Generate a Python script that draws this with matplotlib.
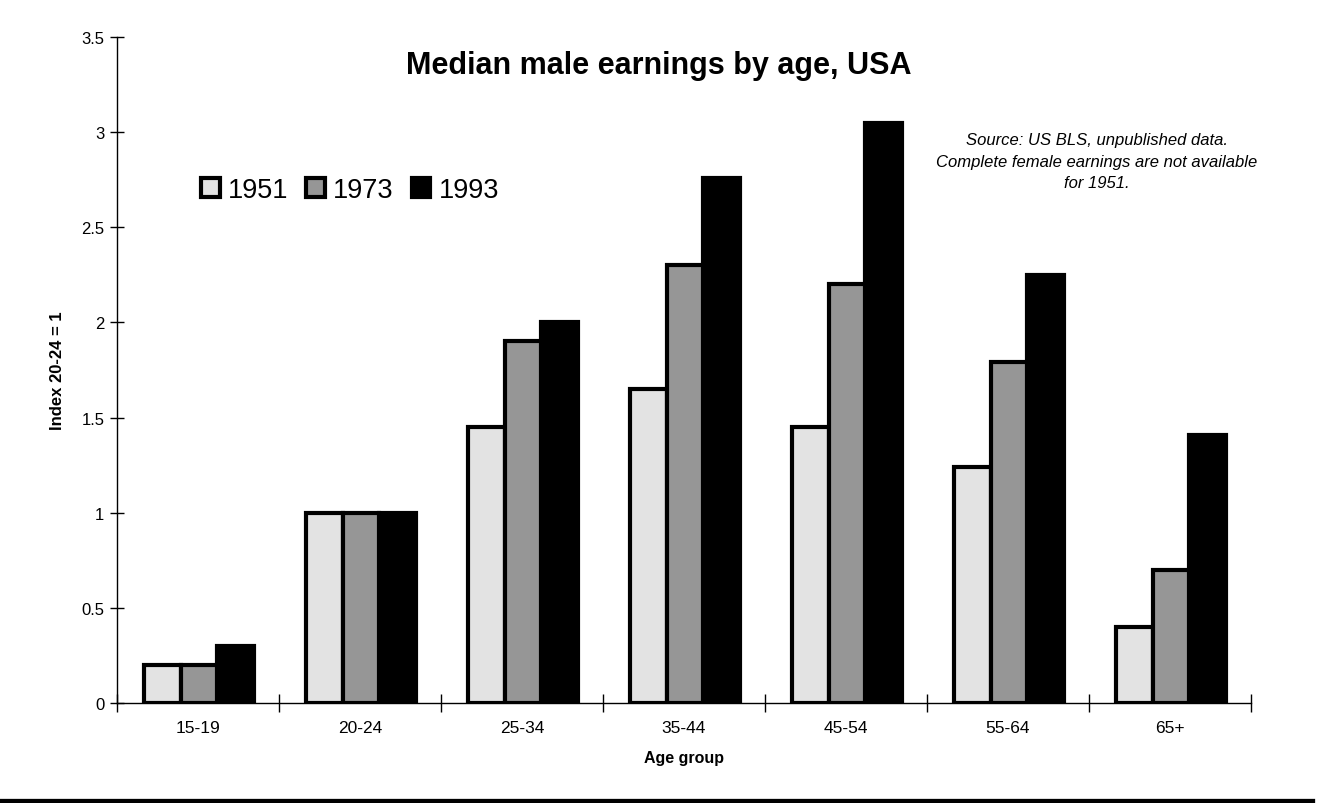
import matplotlib
matplotlib.use("Agg")
import matplotlib.pyplot as plt
from matplotlib.patches import Rectangle
from matplotlib.lines import Line2D
import numpy as np

plt.rcParams['font.family'] = ['Liberation Sans', 'DejaVu Sans']

categories = ["15-19", "20-24", "25-34", "35-44", "45-54", "55-64", "65+"]
years = ["1951", "1973", "1993"]
v1951 = [0.20, 1.00, 1.45, 1.65, 1.45, 1.24, 0.40]
v1973 = [0.20, 1.00, 1.90, 2.30, 2.20, 1.79, 0.70]
v1993 = [0.30, 1.00, 2.00, 2.76, 3.05, 2.25, 1.41]
series = [v1951, v1973, v1993]
colors = ["#e3e3e3", "#969696", "#000000"]
yticks = [0, 0.5, 1, 1.5, 2, 2.5, 3, 3.5]
ytick_labels = ["0", "0.5", "1", "1.5", "2", "2.5", "3", "3.5"]

fig = plt.figure(figsize=(13.2, 8.04), dpi=100)
ax = fig.add_axes([117/1320, 1-704/804, (1251-117)/1320, (704-38)/804])

x = np.arange(len(categories)) + 0.5
bw = 0.226
for i, (vals, c) in enumerate(zip(series, colors)):
    ax.bar(x + (i-1)*bw + 0.005, vals, width=bw, color=c, edgecolor="black",
           linewidth=3.0, zorder=3 if i < 2 else 2)

ax.set_xlim(0, len(categories))
ax.set_ylim(0, 3.5)
ax.set_yticks(yticks)
ax.set_yticklabels(ytick_labels, fontsize=12)
ax.set_xticks(np.arange(len(categories)+1))
ax.set_xticklabels([])
ax.set_xticks(x, minor=True)
ax.set_xticklabels(categories, minor=True, fontsize=12.5)
ax.tick_params(axis='x', which='major', direction='inout', length=13, width=1)
ax.tick_params(axis='x', which='minor', length=0, pad=12)
ax.tick_params(axis='y', direction='inout', length=10, width=1, pad=4)
for s in ['top', 'right']:
    ax.spines[s].set_visible(False)
ax.spines['left'].set_linewidth(1)
ax.spines['bottom'].set_linewidth(1)

ax.set_xlabel("Age group", fontsize=11.5, fontweight='bold', labelpad=11)
ax.set_ylabel("Index 20-24 = 1", fontsize=12, fontweight='bold', labelpad=12)

fig.text(659/1320, 1-66/804, "Median male earnings by age, USA", fontsize=22,
         fontweight='bold', ha='center', va='center')

fig.text(1097/1320, 1-162/804,
         "Source: US BLS, unpublished data.\nComplete female earnings are not available\nfor 1951.",
         fontsize=12, style='italic', ha='center', va='center', linespacing=1.5)

handles = [Rectangle((0, 0), 1, 1, facecolor=c, edgecolor='black', linewidth=3.0)
           for c in colors]
leg = fig.legend(handles, years, loc='center left',
                 bbox_to_anchor=(201/1320, 1-191/804), frameon=False,
                 ncol=3, fontsize=19.5, handlelength=0.7, handleheight=0.7,
                 handletextpad=0.3, columnspacing=0.65, borderaxespad=0,
                 borderpad=0)

fig.add_artist(Line2D([0, 1312/1320], [2.5/804, 2.5/804], color='black',
                      linewidth=3.8, transform=fig.transFigure))

fig.savefig("out.png", dpi=100)
